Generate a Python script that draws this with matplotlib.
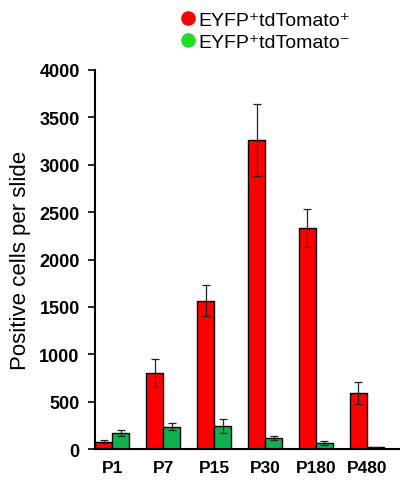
import matplotlib
matplotlib.use('Agg')
import matplotlib.pyplot as plt
from matplotlib.lines import Line2D
import numpy as np

# ages and cell counts
ages = ['P1', 'P7', 'P15', 'P30', 'P180', 'P480']
tomato_pos = [77, 801, 1566, 3262, 2335, 593]
tomato_pos_err = [18, 146, 160, 383, 201, 116]
tomato_neg = [172, 236, 243, 116, 63, 18]
tomato_neg_err = [30, 37, 69, 26, 19, 3]
yticks = [0, 500, 1000, 1500, 2000, 2500, 3000, 3500, 4000]

red = '#ff0000'
green = '#0fb04f'

plt.rcParams['font.family'] = ['Liberation Sans', 'DejaVu Sans']

fig = plt.figure(figsize=(4, 4.81), dpi=100)
ax = fig.add_axes([0.2375, 0.0644, 0.7625, 0.788])

x = np.arange(len(ages))
w = 1 / 3.0
ekw = dict(ecolor='#222222', elinewidth=0.9, capsize=3, capthick=0.9)
ax.bar(x - w / 2, tomato_pos, w, yerr=tomato_pos_err, color=red,
       edgecolor='black', linewidth=1.0, error_kw=ekw)
ax.bar(x + w / 2, tomato_neg, w, yerr=tomato_neg_err, color=green,
       edgecolor='black', linewidth=1.0, error_kw=ekw)

ax.set_xlim(-0.34, 5.65)
ax.set_ylim(0, 4000)
ax.set_yticks(yticks)
ax.set_yticklabels([str(v) for v in yticks], fontweight='bold', fontsize=13)
ax.set_xticks(x)
ax.set_xticklabels(ages, fontweight='bold', fontsize=12.5)
ax.tick_params(axis='x', length=0, pad=8)
ax.tick_params(axis='y', length=5, width=1.2, direction='out', pad=6)

for s in ['top', 'right']:
    ax.spines[s].set_visible(False)
for s in ['left', 'bottom']:
    ax.spines[s].set_linewidth(1.5)

ax.set_ylabel('Positive cells per slide', fontsize=16, labelpad=6)

handles = [Line2D([], [], marker='o', ls='', color=red, markersize=9.5),
           Line2D([], [], marker='o', ls='', color='#22dd22', markersize=9.5)]
labels = ['EYFP\u207atdTomato\u207a', 'EYFP\u207atdTomato\u207b']
fig.legend(handles, labels, loc='upper left', bbox_to_anchor=(0.43, 0.995),
           frameon=False, handlelength=0.6, handletextpad=0.25,
           labelspacing=0.25, borderpad=0, fontsize=14)

fig.savefig('out.png', dpi=100)
